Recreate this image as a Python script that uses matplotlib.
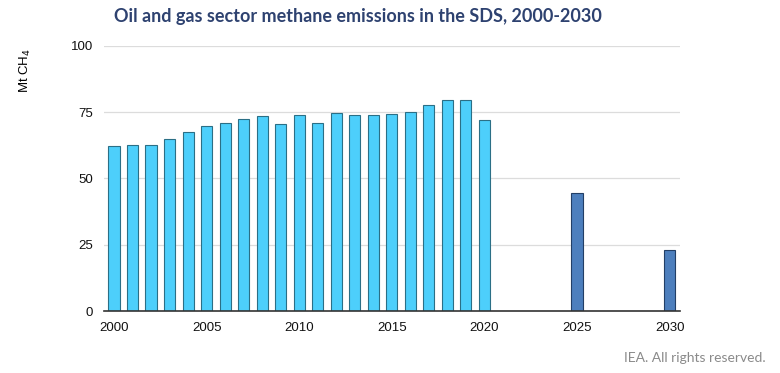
import matplotlib
matplotlib.use("Agg")
import matplotlib.pyplot as plt

years_hist = list(range(2000, 2021))
emis_hist = [62.2, 62.5, 62.5, 65.0, 67.7, 69.7, 71.1, 72.6, 73.7, 70.7, 74.1,
             70.9, 74.6, 74.0, 74.0, 74.2, 75.2, 77.6, 79.7, 79.6, 72.0]
years_sds = [2025, 2030]
emis_sds = [44.4, 23.0]
yticks = [0, 25, 50, 75, 100]
xticks = [2000, 2005, 2010, 2015, 2020, 2025, 2030]

fig = plt.figure(figsize=(7.8, 3.73), dpi=100)
ax = fig.add_axes([0.1333, 0.1662, 0.7387, 0.7105])

ax.bar(years_hist, emis_hist, width=0.6, color="#4dcffb", edgecolor="#2b6f86", linewidth=0.8, zorder=3)
ax.bar(years_sds, emis_sds, width=0.6, color="#4d7fbd", edgecolor="#233f66", linewidth=0.8, zorder=3)

ax.set_xlim(1999.46, 2030.57)
ax.set_ylim(0, 100)
ax.set_yticks(yticks)
ax.set_xticks(xticks)
ax.grid(axis="y", color="#dcdcdc", linewidth=0.9, zorder=0)
for s in ["top", "right", "left"]:
    ax.spines[s].set_visible(False)
ax.spines["bottom"].set_color("#333333")
ax.spines["bottom"].set_linewidth(1.2)
ax.spines["bottom"].set_zorder(4)
ax.tick_params(length=0, labelsize=9.5, colors="#111111")
ax.tick_params(axis="x", pad=8)
ax.tick_params(axis="y", pad=8)
for lbl in ax.get_xticklabels() + ax.get_yticklabels():
    lbl.set_family("Liberation Sans")

fig.text(0.459, 0.955, "Oil and gas sector methane emissions in the SDS, 2000-2030",
         ha="center", va="center", fontsize=13, fontweight="bold", color="#2e4270", family="Lato")
fig.text(0.032, 0.81, "Mt CH$_4$", rotation=90, ha="center", va="center", fontsize=9.5,
         family="Liberation Sans")
fig.text(0.982, 0.04, "IEA. All rights reserved.", ha="right", va="center", fontsize=10,
         color="#8a8a8a", family="Lato")

fig.savefig("out.png", dpi=100)
